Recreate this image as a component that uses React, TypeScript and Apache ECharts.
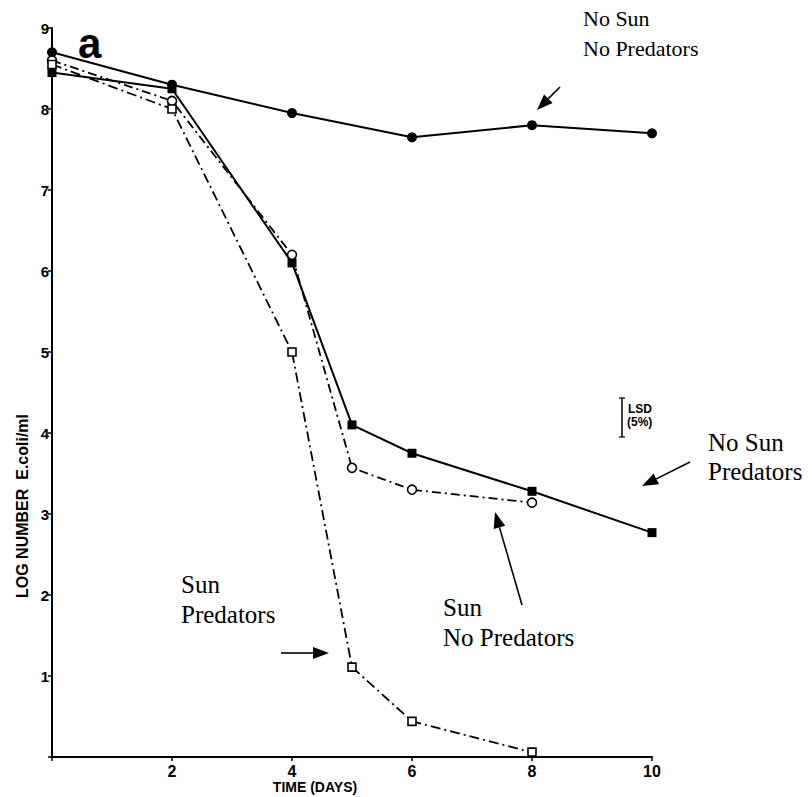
import React, { useEffect, useRef } from "react";
import * as echarts from "echarts";

// ---- data ----
const daysA = [0, 2, 4, 6, 8, 10];
const noSunNoPredators = [8.7, 8.3, 7.95, 7.65, 7.8, 7.7];
const daysB = [0, 2, 4, 5, 6, 8, 10];
const noSunPredators = [8.45, 8.25, 6.1, 4.1, 3.75, 3.28, 2.77];
const daysC = [0, 2, 4, 5, 6, 8];
const sunNoPredators = [8.6, 8.1, 6.2, 3.57, 3.3, 3.14];
const sunPredators = [8.55, 8.0, 5.0, 1.11, 0.44, 0.06];
const xTicks = [2, 4, 6, 8, 10];
const yTicks = [1, 2, 3, 4, 5, 6, 7, 8, 9];

const pair = (xs: number[], ys: number[]) => xs.map((x, i) => [x, ys[i]]);

const SERIF = "'Liberation Serif', 'Times New Roman', serif";
const SANS = "'Liberation Sans', Arial, Helvetica, sans-serif";

function arrow(x1: number, y1: number, x2: number, y2: number) {
  const ang = Math.atan2(y2 - y1, x2 - x1);
  const L = 16, W = 6;
  const bx = x2 - L * Math.cos(ang), by = y2 - L * Math.sin(ang);
  const px = -Math.sin(ang) * W, py = Math.cos(ang) * W;
  return [
    { type: "line", shape: { x1, y1, x2: bx, y2: by }, style: { stroke: "#000", lineWidth: 1.6 } },
    {
      type: "polygon",
      shape: { points: [[x2, y2], [bx + px, by + py], [bx - px, by - py]] },
      style: { fill: "#000" },
    },
  ];
}

function annot(x: number, y: number, lines: string[], size: number, lh: number) {
  return lines.map((t, i) => ({
    type: "text",
    x,
    y: y + i * lh,
    style: { text: t, font: `${size}px ${SERIF}`, fill: "#000", textVerticalAlign: "middle" },
  }));
}

export default function App() {
  const ref = useRef<HTMLDivElement>(null);
  useEffect(() => {
    if (!ref.current) return;
    const chart = echarts.init(ref.current, undefined, { renderer: "svg" });
    const axisLabelStyle = { color: "#000", fontWeight: "bold" as const, fontFamily: SANS };
    chart.setOption({
      animation: false,
      backgroundColor: "#fff",
      grid: { left: 52, right: 160, top: 28, bottom: 40, containLabel: false },
      xAxis: {
        type: "value",
        min: 0,
        max: 10,
        interval: 2,
        axisLine: { lineStyle: { color: "#000", width: 2 } },
        axisTick: { length: 4, lineStyle: { color: "#000", width: 1.5 } },
        axisLabel: {
          ...axisLabelStyle,
          fontSize: 16,
          margin: 6,
          formatter: (v: number) => (xTicks.includes(v) ? String(v) : ""),
        },
        splitLine: { show: false },
      },
      yAxis: {
        type: "value",
        min: 0,
        max: 9,
        interval: 1,
        axisLine: { lineStyle: { color: "#000", width: 2 } },
        axisTick: { length: 4, lineStyle: { color: "#000", width: 1.5 } },
        axisLabel: {
          ...axisLabelStyle,
          fontSize: 15,
          margin: 3,
          formatter: (v: number) => (yTicks.includes(v) ? String(v) : ""),
        },
        splitLine: { show: false },
      },
      series: [
        {
          name: "No Sun No Predators",
          type: "line",
          data: pair(daysA, noSunNoPredators),
          symbol: "circle",
          symbolSize: 10,
          itemStyle: { color: "#000" },
          lineStyle: { color: "#000", width: 2 },
        },
        {
          name: "No Sun Predators",
          type: "line",
          data: pair(daysB, noSunPredators),
          symbol: "rect",
          symbolSize: 9,
          itemStyle: { color: "#000" },
          lineStyle: { color: "#000", width: 2 },
        },
        {
          name: "Sun No Predators",
          type: "line",
          data: pair(daysC, sunNoPredators),
          symbol: "circle",
          symbolSize: 9,
          itemStyle: { color: "#fff", borderColor: "#000", borderWidth: 1.6 },
          lineStyle: { color: "#000", width: 1.8, type: [9, 4, 2, 4] },
        },
        {
          name: "Sun Predators",
          type: "line",
          data: pair(daysC, sunPredators),
          symbol: "rect",
          symbolSize: 8,
          itemStyle: { color: "#fff", borderColor: "#000", borderWidth: 1.6 },
          lineStyle: { color: "#000", width: 1.8, type: [10, 4, 2, 4] },
        },
      ],
      graphic: [
        {
          type: "text",
          x: 78,
          y: 43,
          style: { text: "a", font: `bold 42px ${SANS}`, fill: "#000", textVerticalAlign: "middle" },
        },
        {
          type: "text",
          x: 315,
          y: 787,
          style: { text: "TIME (DAYS)", font: `bold 14px ${SANS}`, fill: "#000", textAlign: "center", textVerticalAlign: "middle" },
        },
        {
          type: "text",
          x: 22,
          y: 506,
          rotation: Math.PI / 2,
          style: { text: "LOG NUMBER  E.coli/ml", font: `bold 16px ${SANS}`, fill: "#000", textAlign: "center", textVerticalAlign: "middle" },
        },
        // LSD bar
        { type: "line", shape: { x1: 622, y1: 398, x2: 622, y2: 437 }, style: { stroke: "#000", lineWidth: 1.5 } },
        { type: "line", shape: { x1: 619, y1: 398, x2: 625, y2: 398 }, style: { stroke: "#000", lineWidth: 1.2 } },
        { type: "line", shape: { x1: 619, y1: 437, x2: 625, y2: 437 }, style: { stroke: "#000", lineWidth: 1.2 } },
        {
          type: "text",
          x: 628,
          y: 409,
          style: { text: "LSD", font: `bold 12px ${SANS}`, fill: "#000", textVerticalAlign: "middle" },
        },
        {
          type: "text",
          x: 627,
          y: 422,
          style: { text: "(5%)", font: `bold 12px ${SANS}`, fill: "#000", textVerticalAlign: "middle" },
        },
        ...annot(583, 18, ["No Sun", "No Predators"], 22, 30),
        ...annot(708, 442, ["No Sun", "Predators"], 25, 29),
        ...annot(443, 607, ["Sun", "No Predators"], 25, 30),
        ...annot(181, 584, ["Sun", "Predators"], 25, 30),
        ...arrow(560, 87, 537, 110),
        ...arrow(690, 462, 642, 486),
        ...arrow(522, 605, 495, 512),
        ...arrow(281, 653, 329, 653),
      ],
    });
    return () => chart.dispose();
  }, []);
  return (
    <div
      ref={ref}
      style={{ position: "fixed", left: 0, top: 0, width: 812, height: 797, background: "#fff" }}
    />
  );
}
